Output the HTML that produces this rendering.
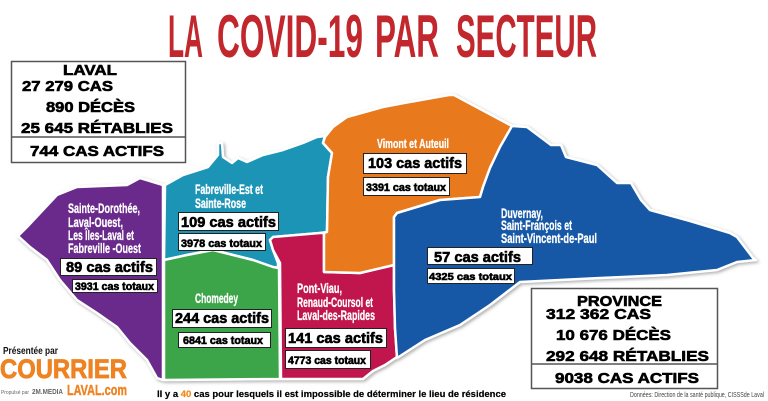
<!DOCTYPE html>
<html><head><meta charset="utf-8"><style>
html,body{margin:0;padding:0;background:#fff;}
svg{display:block;}
text{font-family:"Liberation Sans",Arial,sans-serif;}
</style></head><body>
<svg width="768" height="401" viewBox="0 0 768 401" xmlns="http://www.w3.org/2000/svg">
<defs>
<filter id="sh" x="-10%" y="-10%" width="120%" height="120%">
<feDropShadow dx="1.5" dy="1.5" stdDeviation="1.5" flood-color="#777" flood-opacity="0.6"/>
</filter>
</defs>
<rect width="768" height="401" fill="#fff"/>

<!-- Title -->
<g fill="#c1272d" font-weight="bold" font-size="60">
<text x="168" y="57" textLength="35" lengthAdjust="spacingAndGlyphs">LA</text>
<text x="217" y="57" textLength="146" lengthAdjust="spacingAndGlyphs">COVID-19</text>
<text x="375" y="57" textLength="64" lengthAdjust="spacingAndGlyphs">PAR</text>
<text x="456" y="57" textLength="141" lengthAdjust="spacingAndGlyphs">SECTEUR</text>
</g>

<!-- Map -->
<g filter="url(#sh)" stroke="#fff" stroke-width="2.5" stroke-linejoin="round">
<polygon fill="#6a2b8c" points="57,195 77,187 127,185 140,178 163,185 163,380 157,378 147,360 130,343 117,327 97,313 77,300 60,280 47,260 30,247 18,236 27,227"/>
<polygon fill="#1e94b6" points="165,185 183,175 208,167 218,155 218,143 222,143 223,157 232,163 238,158 247,162 263,155 283,150 303,143 317,137 325,136 323,143 332,153 328,177 327,232 320,233 273,237 270,240 273,250 278,263 278,268 273,267 253,260 213,250 187,255 164,260"/>
<polygon fill="#3da548" points="164,260 187,255 213,250 253,260 273,267 279,268 280,379 164,380"/>
<polygon fill="#c0194d" points="270,240 273,237 320,233 324,233 324,272 360,273 394,265 394,290 395,328 397,357 385,365 373,371 363,379 281,379 280,263 273,250"/>
<polygon fill="#e8791d" points="325,137 333,127 347,117 383,107 404,103 449,95 454,95 512,126 500,147 490,168 483,187 480,197 440,200 397,213 394,217 394,265 360,273 324,272 324,233 327,232 328,177 332,153 323,143"/>
<polygon fill="#1558a6" points="512,126 527,127 551,145 561,145 566,157 597,165 617,183 631,183 641,200 650,210 690,221 730,233 737,237 753,258 756,260 737,262 717,270 667,275 623,277 600,278 520,282 490,305 460,325 425,340 397,358 395,328 394,290 394,217 397,213 440,200 480,197 483,187 490,168 500,147"/>
</g>

<!-- Region labels -->
<g fill="#fff" font-weight="bold" font-size="13.5" stroke="#fff" stroke-width="0.3">
<text x="377" y="148" textLength="72" lengthAdjust="spacingAndGlyphs" font-size="12.5">Vimont et Auteuil</text>
<text x="195" y="194" textLength="68" lengthAdjust="spacingAndGlyphs">Fabreville-Est et</text>
<text x="195" y="208" textLength="51" lengthAdjust="spacingAndGlyphs">Sainte-Rose</text>
<text x="68" y="213" textLength="72" lengthAdjust="spacingAndGlyphs">Sainte-Dorothée,</text>
<text x="68" y="227" textLength="55" lengthAdjust="spacingAndGlyphs">Laval-Ouest,</text>
<text x="68" y="240" textLength="66" lengthAdjust="spacingAndGlyphs">Les Îles-Laval et</text>
<text x="68" y="253" textLength="73" lengthAdjust="spacingAndGlyphs">Fabreville -Ouest</text>
<text x="195" y="303" textLength="43" lengthAdjust="spacingAndGlyphs">Chomedey</text>
<text x="297" y="293" textLength="45" lengthAdjust="spacingAndGlyphs">Pont-Viau,</text>
<text x="297" y="307" textLength="76" lengthAdjust="spacingAndGlyphs">Renaud-Coursol et</text>
<text x="297" y="320" textLength="78" lengthAdjust="spacingAndGlyphs">Laval-des-Rapides</text>
<text x="501" y="218" textLength="42" lengthAdjust="spacingAndGlyphs">Duvernay,</text>
<text x="501" y="230" textLength="71" lengthAdjust="spacingAndGlyphs">Saint-François et</text>
<text x="501" y="243" textLength="96" lengthAdjust="spacingAndGlyphs">Saint-Vincent-de-Paul</text>
</g>

<!-- Boxes -->
<g fill="#fff" stroke="#222" stroke-width="1">
<rect x="363.5" y="153.5" width="103" height="20"/>
<rect x="363.5" y="177.5" width="86" height="18"/>
<rect x="178.5" y="212.5" width="100" height="18"/>
<rect x="178.5" y="233.5" width="87" height="17"/>
<rect x="60.5" y="258.5" width="96" height="17"/>
<rect x="72.5" y="279.5" width="85" height="13"/>
<rect x="172.5" y="309.5" width="99" height="18"/>
<rect x="178.5" y="332.5" width="92" height="15"/>
<rect x="285.5" y="328.5" width="101" height="19"/>
<rect x="285.5" y="350.5" width="85" height="18"/>
<rect x="427.5" y="247.5" width="105" height="17"/>
<rect x="427.5" y="268.5" width="87" height="15"/>
</g>
<g fill="#000" font-weight="bold" stroke="#000" stroke-width="0.6">
<text x="368" y="168" font-size="15" textLength="94" lengthAdjust="spacingAndGlyphs">103 cas actifs</text>
<text x="366" y="191" font-size="11" textLength="80" lengthAdjust="spacingAndGlyphs">3391 cas totaux</text>
<text x="181" y="227" font-size="15" textLength="95" lengthAdjust="spacingAndGlyphs">109 cas actifs</text>
<text x="181" y="247" font-size="11" textLength="81" lengthAdjust="spacingAndGlyphs">3978 cas totaux</text>
<text x="66" y="272" font-size="15" textLength="87" lengthAdjust="spacingAndGlyphs">89 cas actifs</text>
<text x="75" y="290" font-size="11" textLength="79" lengthAdjust="spacingAndGlyphs">3931 cas totaux</text>
<text x="175" y="323" font-size="15" textLength="94" lengthAdjust="spacingAndGlyphs">244 cas actifs</text>
<text x="183" y="344" font-size="11" textLength="80" lengthAdjust="spacingAndGlyphs">6841 cas totaux</text>
<text x="288" y="343" font-size="15" textLength="95" lengthAdjust="spacingAndGlyphs">141 cas actifs</text>
<text x="288" y="364" font-size="11" textLength="78" lengthAdjust="spacingAndGlyphs">4773 cas totaux</text>
<text x="434" y="262" font-size="15" textLength="87" lengthAdjust="spacingAndGlyphs">57 cas actifs</text>
<text x="429" y="280" font-size="10.5" textLength="83" lengthAdjust="spacingAndGlyphs">4325 cas totaux</text>
</g>

<!-- Laval box -->
<rect x="11.5" y="61.5" width="174" height="101" fill="#fff" stroke="#555" stroke-width="1.5"/>
<line x1="11.5" y1="137" x2="185.5" y2="137" stroke="#555" stroke-width="1.5"/>
<g fill="#000" font-weight="bold" font-size="14.5" stroke="#000" stroke-width="0.6">
<text x="63" y="75" textLength="54" lengthAdjust="spacingAndGlyphs">LAVAL</text>
<text x="22" y="91" textLength="91" lengthAdjust="spacingAndGlyphs">27 279 CAS</text>
<text x="46" y="112" textLength="89" lengthAdjust="spacingAndGlyphs">890 DÉCÈS</text>
<text x="21" y="133" textLength="152" lengthAdjust="spacingAndGlyphs">25 645 RÉTABLIES</text>
<text x="30" y="156" textLength="134" lengthAdjust="spacingAndGlyphs">744 CAS ACTIFS</text>
</g>

<!-- Province box -->
<rect x="531.5" y="288.5" width="186" height="100" fill="#fff" stroke="#555" stroke-width="1.5"/>
<line x1="531.5" y1="364" x2="717.5" y2="364" stroke="#555" stroke-width="1.5"/>
<g fill="#000" font-weight="bold" font-size="15" stroke="#000" stroke-width="0.6">
<text x="577" y="306" textLength="85" lengthAdjust="spacingAndGlyphs">PROVINCE</text>
<text x="546" y="319" textLength="105" lengthAdjust="spacingAndGlyphs">312 362 CAS</text>
<text x="556" y="340" textLength="115" lengthAdjust="spacingAndGlyphs">10 676 DÉCÈS</text>
<text x="546" y="361" textLength="163" lengthAdjust="spacingAndGlyphs">292 648 RÉTABLIES</text>
<text x="555" y="383" textLength="144" lengthAdjust="spacingAndGlyphs">9038 CAS ACTIFS</text>
</g>

<!-- Footer -->
<text x="157" y="397" font-size="9.5" font-weight="bold" fill="#000" stroke="#000" stroke-width="0.2" textLength="349" lengthAdjust="spacingAndGlyphs">Il y a <tspan fill="#f08a1c" stroke="#f08a1c">40</tspan> cas pour lesquels il est impossible de déterminer le lieu de résidence</text>
<text x="630" y="397" font-size="7.5" fill="#444" textLength="134" lengthAdjust="spacingAndGlyphs">Données: Direction de la santé publique, CISSSde Laval</text>

<!-- Logo -->
<text x="3" y="354" font-size="10" font-weight="bold" fill="#111" textLength="55" lengthAdjust="spacingAndGlyphs">Présentée par</text>
<text x="0" y="378" font-size="27" font-weight="bold" fill="#ef8221" stroke="#ef8221" stroke-width="0.8" textLength="127" lengthAdjust="spacingAndGlyphs">COURRIER</text>
<text x="1" y="394" font-size="5" fill="#666" textLength="28" lengthAdjust="spacingAndGlyphs">Propulsé par</text>
<text x="32" y="394" font-size="7" font-weight="bold" fill="#666" textLength="31" lengthAdjust="spacingAndGlyphs">2M.MEDIA</text>
<text x="67" y="395" font-size="15" font-weight="bold" fill="#ef8221" stroke="#ef8221" stroke-width="0.4" textLength="60" lengthAdjust="spacingAndGlyphs">LAVAL.com</text>
</svg>
</body></html>
